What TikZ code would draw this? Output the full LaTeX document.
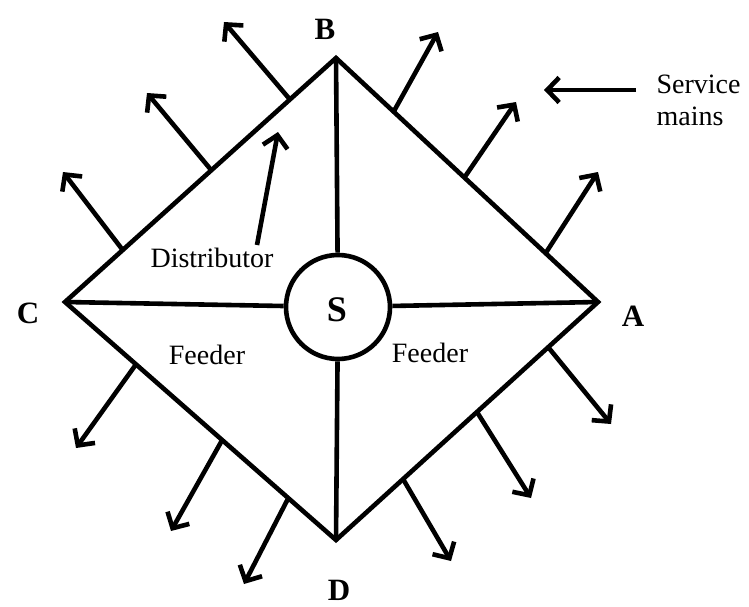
\documentclass[tikz,border=0pt]{standalone}
\usepackage{fontspec}
\setmainfont{Liberation Serif}
\usetikzlibrary{arrows.meta,calc}
\begin{document}
\begin{tikzpicture}[x=1pt,y=-1pt,
  wire/.style={line width=4.6pt},
  svc/.style={line width=4.6pt,-{Straight Barb[length=12pt,width=25pt,line width=4.6pt]}},
  vlabel/.style={font=\fontsize{31}{33}\selectfont\bfseries,inner sep=0pt},
  tlabel/.style={font=\fontsize{28}{32}\selectfont},
]
\useasboundingbox (0,0) rectangle (749,607);
\coordinate (A) at (598,302);
\coordinate (B) at (336,58);
\coordinate (C) at (65,302);
\coordinate (D) at (336,540);
\node[draw,circle,line width=4.6pt,minimum size=104pt,inner sep=0pt] (S) at (338,307) {};
\node[font=\fontsize{36}{38}\selectfont\bfseries] (Slab) at (337,310) {S};
\node[vlabel] (Blab) at (325,29) {B};
\node[vlabel] (Alab) at (633,316) {A};
\node[vlabel] (Clab) at (28,313) {C};
\node[vlabel] (Dlab) at (339,590) {D};
\draw[wire,line join=miter] (C) -- (B) -- (A) -- (D) -- cycle;
\draw[wire] (B) -- (S);
\draw[wire] (C) -- (S);
\draw[wire] (S) -- (A);
\draw[wire] (S) -- (D);
% service mains CB
\coordinate (cb1) at ($(C)!0.213!(B)$);
\coordinate (cb2) at ($(C)!0.54!(B)$);
\coordinate (cb3) at ($(C)!0.83!(B)$);
\coordinate (tcb1) at (63,172);
\coordinate (tcb2) at (147,93);
\coordinate (tcb3) at (224,22);
\draw[svc] (cb1) -- (tcb1);
\draw[svc] (cb2) -- (tcb2);
\draw[svc] (cb3) -- (tcb3);
% BA
\coordinate (ba1) at ($(B)!0.22!(A)$);
\coordinate (ba2) at ($(B)!0.49!(A)$);
\coordinate (ba3) at ($(B)!0.80!(A)$);
\coordinate (tba1) at (438,32);
\coordinate (tba2) at (516,102);
\coordinate (tba3) at (598,172);
\draw[svc] (ba1) -- (tba1);
\draw[svc] (ba2) -- (tba2);
\draw[svc] (ba3) -- (tba3);
% CD
\coordinate (cd1) at ($(C)!0.262!(D)$);
\coordinate (cd2) at ($(C)!0.58!(D)$);
\coordinate (cd3) at ($(C)!0.824!(D)$);
\coordinate (tcd1) at (76,448);
\coordinate (tcd2) at (171,531);
\coordinate (tcd3) at (244,584);
\draw[svc] (cd1) -- (tcd1);
\draw[svc] (cd2) -- (tcd2);
\draw[svc] (cd3) -- (tcd3);
% DA
\coordinate (da1) at ($(D)!0.256!(A)$);
\coordinate (da2) at ($(D)!0.538!(A)$);
\coordinate (da3) at ($(D)!0.81!(A)$);
\coordinate (tda1) at (451,561);
\coordinate (tda2) at (531,498);
\coordinate (tda3) at (611,424);
\draw[svc] (da1) -- (tda1);
\draw[svc] (da2) -- (tda2);
\draw[svc] (da3) -- (tda3);
% labels
\node[tlabel] (dist) at (212,258) {Distributor};
\coordinate (dtail) at (257,245);
\coordinate (dtip) at (278,132);
\draw[svc] (dtail) -- (dtip);
\node[tlabel] (feedL) at (207,355) {Feeder};
\node[tlabel] (feedR) at (430,353) {Feeder};
\node[tlabel,align=left,anchor=west] (serv) at (653,100) {Service\\mains};
\coordinate (stip) at (544,90);
\coordinate (stail) at (636,90);
\draw[svc] (stail) -- (stip);
\end{tikzpicture}
\end{document}
